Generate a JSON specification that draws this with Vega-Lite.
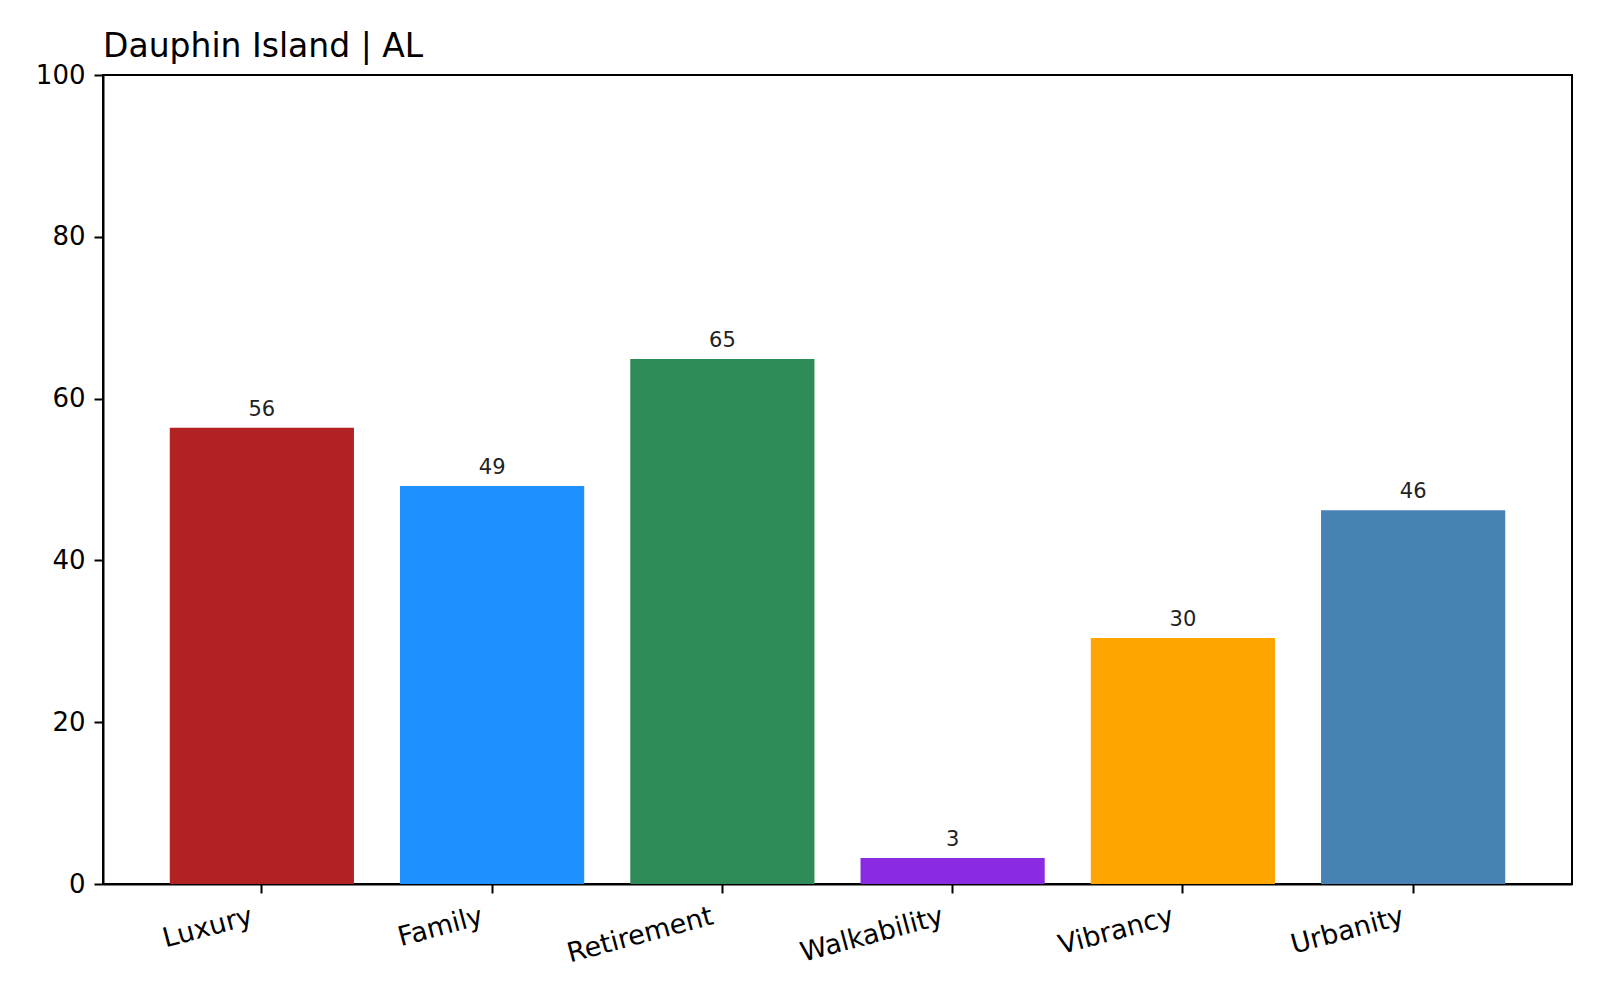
{
  "$schema": "https://vega.github.io/schema/vega-lite/v6.json",
  "width": 1469,
  "height": 809,
  "autosize": {"type": "none"},
  "padding": {"left": 103, "top": 75, "right": 28, "bottom": 116},
  "background": "white",
  "title": {
    "text": "Dauphin Island | AL",
    "anchor": "start",
    "frame": "group",
    "fontSize": 33,
    "fontWeight": "normal",
    "font": "DejaVu Sans",
    "color": "#000000",
    "offset": -2
  },
  "data": {
    "values": [
      {"category": "Luxury", "value": 56.4},
      {"category": "Family", "value": 49.2},
      {"category": "Retirement", "value": 64.9},
      {"category": "Walkability", "value": 3.2},
      {"category": "Vibrancy", "value": 30.4},
      {"category": "Urbanity", "value": 46.2}
    ]
  },
  "encoding": {
    "x": {
      "field": "category",
      "type": "nominal",
      "sort": null,
      "scale": {"paddingInner": 0.2, "paddingOuter": 0.29},
      "axis": {
        "title": null,
        "labelAngle": -15,
        "labelAlign": "right",
        "labelBaseline": "top",
        "labelFontSize": 27,
        "labelFont": "DejaVu Sans",
        "labelColor": "#000000",
        "labelPadding": 10,
        "labelOffset": -13,
        "tickSize": 9,
        "tickWidth": 2,
        "tickColor": "#000000",
        "domainColor": "#000000",
        "domainWidth": 2,
        "grid": false
      }
    },
    "y": {
      "field": "value",
      "type": "quantitative",
      "scale": {"domain": [0, 100], "nice": false},
      "axis": {
        "title": null,
        "values": [0, 20, 40, 60, 80, 100],
        "labelFontSize": 26,
        "labelFont": "DejaVu Sans",
        "labelColor": "#000000",
        "labelPadding": 9,
        "tickSize": 9,
        "tickWidth": 2,
        "tickColor": "#000000",
        "domainColor": "#000000",
        "domainWidth": 2,
        "grid": false
      }
    }
  },
  "layer": [
    {
      "mark": {"type": "bar"},
      "encoding": {
        "color": {
          "field": "category",
          "type": "nominal",
          "scale": {
            "domain": ["Luxury", "Family", "Retirement", "Walkability", "Vibrancy", "Urbanity"],
            "range": ["#B22222", "#1E90FF", "#2E8B57", "#8A2BE2", "#FFA500", "#4682B4"]
          },
          "legend": null
        }
      }
    },
    {
      "mark": {
        "type": "text",
        "baseline": "alphabetic",
        "dy": -12,
        "fontSize": 21,
        "font": "DejaVu Sans",
        "color": "#222222"
      },
      "encoding": {
        "text": {"field": "value", "type": "quantitative", "format": ".0f"}
      }
    }
  ],
  "config": {
    "view": {"stroke": "#000000", "strokeWidth": 2}
  }
}
